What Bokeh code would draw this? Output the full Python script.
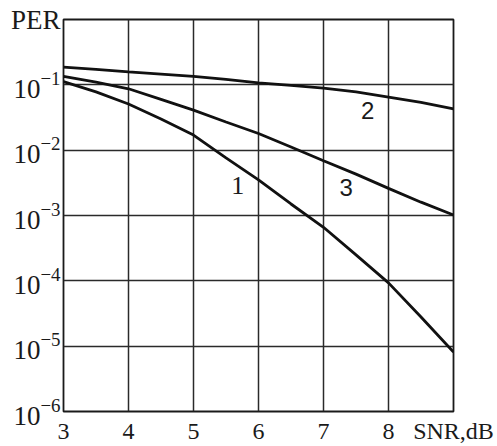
from bokeh.plotting import figure
from bokeh.models import FixedTicker, Label
from bokeh.embed import file_html
from bokeh.resources import INLINE

# SNR values (dB)
snr = [3, 3.5, 4, 4.5, 5, 5.5, 6, 6.5, 7, 7.5, 8, 8.5, 9]
# Packet error rate curves
per_1 = [0.112, 0.078, 0.051, 0.030, 0.017, 0.0076, 0.0035, 0.0015, 6.6e-4, 2.5e-4, 9.3e-5, 2.8e-5, 8.1e-6]
per_2 = [0.186, 0.172, 0.158, 0.146, 0.135, 0.121, 0.107, 0.098, 0.089, 0.078, 0.065, 0.054, 0.043]
per_3 = [0.135, 0.110, 0.087, 0.060, 0.041, 0.027, 0.018, 0.0112, 0.0069, 0.0043, 0.0026, 0.0016, 0.00102]

x_ticks = [3, 4, 5, 6, 7, 8, 9]
x_tick_labels = {9: "SNR,dB"}
y_ticks = [1e-6, 1e-5, 1e-4, 1e-3, 1e-2, 1e-1, 1e0]
y_tick_labels = {1.0: "PER"}
curve_names = ["1", "2", "3"]

ink = "#1a1a1a"
serif = "Liberation Serif"

p = figure(width=497, height=446, output_backend="svg", toolbar_location=None,
           x_range=(3, 9), y_range=(1e-6, 1), y_axis_type="log",
           min_border_left=63, min_border_right=44, min_border_top=19, min_border_bottom=35)

p.background_fill_color = "white"
p.border_fill_color = "white"
p.outline_line_color = ink
p.outline_line_width = 1.8

p.xaxis.ticker = FixedTicker(ticks=x_ticks)
p.yaxis.ticker = FixedTicker(ticks=y_ticks)
p.xaxis.major_label_overrides = x_tick_labels
p.yaxis.major_label_overrides = y_tick_labels
p.xgrid.ticker = FixedTicker(ticks=x_ticks)
p.ygrid.ticker = FixedTicker(ticks=y_ticks)
for g in (p.xgrid, p.ygrid):
    g.grid_line_color = "#2a2a2a"
    g.grid_line_width = 1.5
    g.grid_line_alpha = 1.0

for ax in (p.xaxis, p.yaxis):
    ax.axis_line_color = None
    ax.major_tick_line_color = None
    ax.minor_tick_line_color = None
    ax.major_tick_out = 0
    ax.major_tick_in = 0
    ax.minor_tick_out = 0
    ax.minor_tick_in = 0
    ax.major_label_text_font = serif
    ax.major_label_text_color = ink
p.xaxis.major_label_standoff = 6
p.yaxis.major_label_standoff = 3
p.xaxis.major_label_text_font_size = "24px"
p.yaxis.major_label_text_font_size = "27px"
p.yaxis.major_label_text_baseline = "alphabetic"

for ys in (per_1, per_2, per_3):
    p.line(snr, ys, line_color="#111111", line_width=2.8)

p.add_layout(Label(x=5.68, y=0.00288, text=curve_names[0], text_align="center", text_baseline="middle",
                   text_font=serif, text_font_size="26px", text_color=ink))
p.add_layout(Label(x=7.68, y=0.0407, text=curve_names[1], text_align="center", text_baseline="middle",
                   text_font="Liberation Sans", text_font_size="24px", text_color=ink))
p.add_layout(Label(x=7.35, y=0.00269, text=curve_names[2], text_align="center", text_baseline="middle",
                   text_font="Liberation Sans", text_font_size="24px", text_color=ink))

open("out.html", "w").write(file_html(p, INLINE))
